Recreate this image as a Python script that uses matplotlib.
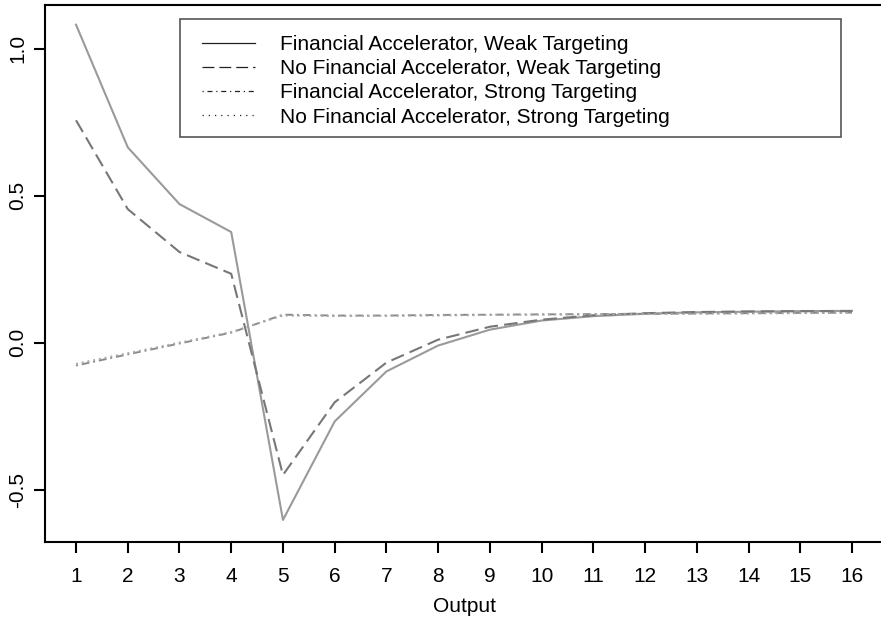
import matplotlib
matplotlib.use("Agg")
import matplotlib.pyplot as plt
from matplotlib.lines import Line2D
from matplotlib.patches import Rectangle

plt.rcParams['font.family'] = ['Liberation Sans', 'DejaVu Sans']

periods = list(range(1, 17))
fa_weak = [1.081, 0.664, 0.471, 0.376, -0.603, -0.268, -0.098, -0.010,
           0.044, 0.075, 0.090, 0.098, 0.103, 0.105, 0.107, 0.108]
nofa_weak = [0.756, 0.454, 0.308, 0.234, -0.450, -0.203, -0.068, 0.010,
             0.054, 0.078, 0.093, 0.100, 0.104, 0.106, 0.107, 0.107]
fa_strong = [-0.078, -0.040, -0.003, 0.034, 0.095, 0.092, 0.092, 0.094,
             0.095, 0.096, 0.097, 0.098, 0.099, 0.100, 0.101, 0.102]
nofa_strong = [-0.072, -0.036, 0.000, 0.036, 0.092, 0.090, 0.091, 0.092,
               0.094, 0.095, 0.096, 0.097, 0.098, 0.099, 0.100, 0.101]
labels = ["Financial Accelerator, Weak Targeting",
          "No Financial Accelerator, Weak Targeting",
          "Financial Accelerator, Strong Targeting",
          "No Financial Accelerator, Strong Targeting"]
yticks = [-0.5, 0.0, 0.5, 1.0]

W, H = 881, 621
fig = plt.figure(figsize=(W / 100, H / 100), dpi=100)
ax = fig.add_axes([45 / W, 1 - 542 / H, 838 / W, 537 / H])

ax.plot(periods, fa_weak, color='#9a9a9a', lw=1.5, ls='-')
ax.plot(periods, nofa_weak, color='#777777', lw=1.5, ls=(0, (6.5, 3)))
ax.plot(periods, fa_strong, color='#8a8a8a', lw=1.4, ls=(0, (1, 2, 4, 2)))
ax.plot(periods, nofa_strong, color='#aaaaaa', lw=1.4, ls=(0, (1, 2)))

ax.set_xlim(0.4, 16.6)
ax.set_ylim(-0.678, 1.148)
ax.set_xticks(periods)
ax.set_yticks(yticks)
ax.set_yticklabels([f"{v:.1f}" for v in yticks], rotation=90, va='center')
ax.tick_params(axis='both', length=8, width=1.5, labelsize=15)
ax.tick_params(axis='x', pad=10)
ax.tick_params(axis='y', pad=5)
for s in ax.spines.values():
    s.set_linewidth(1.5)
ax.set_xlabel("Output", fontsize=15, labelpad=8)

# legend box drawn separately, as in the original
fig.add_artist(Rectangle((180 / W, 1 - 137 / H), 661 / W, 118 / H,
                         transform=fig.transFigure, fill=False,
                         edgecolor='#555555', lw=1.2))
handles = [Line2D([], [], color='#222222', lw=0.9, ls='-'),
           Line2D([], [], color='#222222', lw=0.9, ls=(0, (9.5, 4))),
           Line2D([], [], color='#222222', lw=0.9, ls=(0, (1, 3, 4, 3))),
           Line2D([], [], color='#222222', lw=0.9, ls=(0, (1, 4)))]
fig.legend(handles, labels, loc='upper left',
           bbox_to_anchor=(202 / W, 1 - 35 / H),
           bbox_transform=fig.transFigure, frameon=False,
           fontsize=15, handlelength=2.55, handletextpad=1.2,
           labelspacing=0.25, borderpad=0, borderaxespad=0)

fig.savefig("out.png", dpi=100)
